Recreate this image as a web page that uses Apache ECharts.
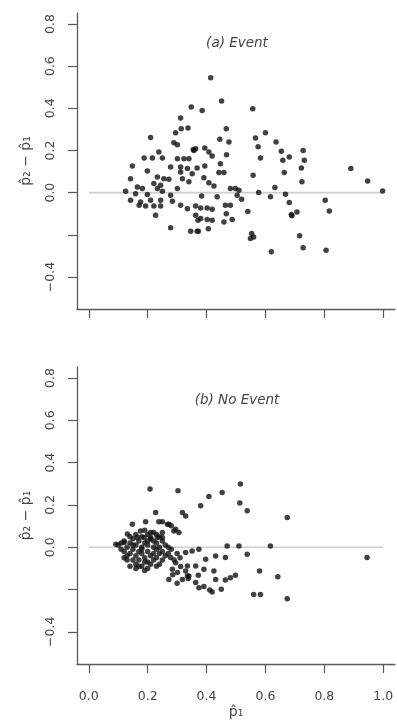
<!DOCTYPE html>
<html>
<head>
<meta charset="utf-8">
<script src="https://cdn.jsdelivr.net/npm/echarts@6/dist/echarts.min.js"></script>
<style>
  html, body { margin: 0; padding: 0; background: #fff; }
  #chart { width: 397px; height: 721px; }
</style>
</head>
<body>
<div id="chart"></div>
<script>
// Panel (a): patients with the event — [p1 hat, p2 hat - p1 hat]
const eventPoints = [
  [0.414,0.545],[0.451,0.435],[0.385,0.390],[0.557,0.398],[0.467,0.303],[0.600,0.284],
  [0.566,0.259],[0.445,0.253],[0.476,0.240],[0.636,0.240],[0.575,0.217],[0.394,0.212],
  [0.408,0.193],[0.419,0.174],[0.363,0.208],[0.468,0.180],[0.654,0.196],[0.681,0.169],
  [0.583,0.164],[0.659,0.153],[0.447,0.137],[0.394,0.126],[0.368,0.117],[0.442,0.095],
  [0.459,0.095],[0.664,0.095],[0.558,0.082],[0.391,0.070],[0.408,0.047],[0.425,0.032],
  [0.481,0.019],[0.498,0.019],[0.510,0.011],[0.504,-0.013],[0.519,-0.032],[0.632,0.024],
  [0.577,0.000],[0.617,-0.020],[0.668,-0.008],[0.681,-0.047],[0.688,-0.104],[0.383,-0.016],
  [0.436,-0.020],[0.464,-0.060],[0.481,-0.060],[0.380,-0.073],[0.402,-0.073],[0.419,-0.079],
  [0.467,-0.100],[0.540,-0.089],[0.380,-0.123],[0.402,-0.127],[0.419,-0.131],[0.459,-0.139],
  [0.487,-0.127],[0.372,-0.183],[0.406,-0.171],[0.553,-0.194],[0.549,-0.218],[0.560,-0.210],
  [0.620,-0.281],
  [0.348,0.406],[0.312,0.354],[0.337,0.306],[0.314,0.303],[0.295,0.284],[0.210,0.261],
  [0.289,0.237],[0.301,0.227],[0.355,0.205],[0.238,0.193],[0.250,0.164],[0.188,0.164],
  [0.216,0.164],[0.301,0.161],[0.323,0.161],[0.340,0.161],[0.148,0.126],[0.278,0.122],
  [0.312,0.122],[0.335,0.114],[0.199,0.103],[0.312,0.098],[0.351,0.090],[0.142,0.066],
  [0.233,0.074],[0.255,0.066],[0.272,0.063],[0.318,0.066],[0.340,0.051],[0.221,0.043],
  [0.244,0.035],[0.165,0.027],[0.182,0.019],[0.233,0.019],[0.250,0.006],[0.301,0.019],
  [0.125,0.006],[0.159,-0.005],[0.199,-0.009],[0.278,-0.013],[0.142,-0.036],[0.176,-0.044],
  [0.210,-0.036],[0.244,-0.036],[0.284,-0.041],[0.312,-0.060],[0.363,-0.063],[0.171,-0.060],
  [0.193,-0.063],[0.221,-0.063],[0.244,-0.063],[0.335,-0.076],[0.227,-0.107],[0.363,-0.107],
  [0.371,-0.131],[0.278,-0.167],[0.346,-0.183],[0.368,-0.183],[0.357,0.200],
  [0.728,0.200],[0.732,0.153],[0.722,0.117],[0.724,0.051],[0.890,0.114],[0.947,0.055],
  [0.998,0.008],[0.803,-0.036],[0.817,-0.087],[0.707,-0.092],[0.690,-0.110],[0.716,-0.205],
  [0.728,-0.262],[0.806,-0.273]
];

// Panel (b): patients without the event
const noEventPoints = [
  [0.10,0.01],[0.11,-0.01],[0.12,-0.02],[0.12,0.03],[0.13,0.00],[0.13,-0.04],[0.14,0.02],
  [0.14,-0.03],[0.15,-0.01],[0.15,-0.06],[0.15,0.04],[0.16,0.01],[0.16,-0.04],[0.16,-0.08],
  [0.17,0.03],[0.17,-0.02],[0.17,-0.06],[0.18,0.00],[0.18,-0.03],[0.18,0.05],[0.18,-0.09],
  [0.19,0.02],[0.19,-0.05],[0.19,-0.07],[0.20,0.01],[0.20,-0.02],[0.20,0.06],[0.20,-0.10],
  [0.21,0.04],[0.21,-0.04],[0.21,-0.08],[0.22,0.00],[0.22,-0.03],[0.22,0.07],[0.22,-0.06],
  [0.23,0.02],[0.23,-0.01],[0.23,-0.05],[0.23,-0.09],[0.24,0.05],[0.24,-0.03],[0.24,0.00],
  [0.25,0.03],[0.25,-0.02],[0.25,-0.06],[0.26,0.01],[0.26,-0.04],[0.13,-0.06],[0.14,0.05],
  [0.16,0.06],[0.19,0.08],[0.21,0.07],[0.17,-0.09],[0.20,-0.07],[0.24,-0.08],[0.12,-0.05],
  [0.11,0.02],[0.15,0.01],[0.18,-0.01],[0.20,0.03],[0.22,0.03],[0.19,-0.11],[0.16,-0.10],
  [0.14,-0.09],[0.23,0.06],[0.25,0.07],
  [0.278,-0.049],[0.295,-0.073],[0.312,-0.091],[0.329,-0.112],[0.340,-0.136],[0.284,-0.104],
  [0.301,-0.120],[0.272,-0.152],[0.318,-0.152],[0.335,-0.136],[0.329,-0.025],[0.351,-0.018],
  [0.374,-0.009],[0.335,-0.089],[0.363,-0.089],[0.391,-0.104],[0.338,-0.148],[0.372,-0.133],
  [0.363,-0.167],[0.374,-0.191],[0.270,-0.030],[0.280,-0.010],[0.290,-0.060],[0.300,-0.030],
  [0.310,-0.050],[0.270,0.000],[0.300,-0.170],[0.285,-0.130],
  [0.208,0.275],[0.303,0.267],[0.227,0.164],[0.318,0.164],[0.329,0.148],[0.193,0.120],
  [0.238,0.120],[0.272,0.109],[0.295,0.085],[0.306,0.070],[0.148,0.109],[0.176,0.077],
  [0.131,0.062],[0.165,0.046],[0.188,0.046],[0.210,0.046],[0.233,0.046],[0.250,0.046],
  [0.092,0.014],[0.120,0.022],[0.250,0.120],[0.267,0.109],[0.280,0.101],[0.289,0.077],
  [0.515,0.299],[0.453,0.259],[0.408,0.240],[0.380,0.196],[0.513,0.209],[0.538,0.172],
  [0.674,0.141],[0.470,0.006],[0.510,0.006],[0.617,0.006],[0.538,-0.033],[0.431,-0.041],
  [0.464,-0.049],[0.397,-0.057],[0.945,-0.049],[0.580,-0.112],[0.642,-0.139],[0.425,-0.112],
  [0.431,-0.152],[0.464,-0.155],[0.481,-0.144],[0.498,-0.133],[0.391,-0.186],[0.411,-0.202],
  [0.419,-0.212],[0.450,-0.199],[0.560,-0.223],[0.583,-0.223],[0.674,-0.243]
];

// Reference line at zero difference
const zeroLine = [[0, 0], [1, 0]];

// Tick positions and labels
const xTicks = [0, 0.2, 0.4, 0.6, 0.8, 1.0];
const yTicks = [-0.4, -0.2, 0, 0.2, 0.4, 0.6, 0.8];
const yLabelValues = [-0.4, 0, 0.2, 0.4, 0.6, 0.8];

const panelTitles = ['(a) Event', '(b) No Event'];
const yTitle = 'p\u0302\u2082 \u2212 p\u0302\u2081';
const xTitle = 'p\u0302\u2081';

const FONT = 'DejaVu Sans, Liberation Sans, sans-serif';
const AXIS_COLOR = '#5a5a5a';
const TEXT_COLOR = '#444';

const fmt = v => (v < 0 ? '\u2212' : '') + Math.abs(v).toFixed(1);

const grids = [
  { left: 77, width: 318, top: 13, height: 296 },
  { left: 77, width: 318, top: 367, height: 297 }
];

function makeX(i, showLabels) {
  return {
    type: 'value', gridIndex: i, min: -0.04, max: 1.04,
    axisLine: { show: true, onZero: false, lineStyle: { color: AXIS_COLOR, width: 1.3 } },
    axisTick: { show: true, length: 9, customValues: xTicks, lineStyle: { color: AXIS_COLOR, width: 1.2 } },
    axisLabel: {
      show: showLabels, customValues: xTicks, formatter: fmt, margin: 26,
      color: TEXT_COLOR, fontFamily: FONT, fontSize: 12.5
    },
    splitLine: { show: false },
    name: showLabels ? xTitle : '', nameLocation: 'middle', nameGap: 41,
    nameTextStyle: { color: TEXT_COLOR, fontFamily: FONT, fontSize: 14 }
  };
}

function makeY(i) {
  return {
    type: 'value', gridIndex: i, min: -0.552, max: 0.852,
    axisLine: { show: true, onZero: false, lineStyle: { color: AXIS_COLOR, width: 1.3 } },
    axisTick: { show: true, length: 9, customValues: yTicks, lineStyle: { color: AXIS_COLOR, width: 1.2 } },
    axisLabel: {
      customValues: yLabelValues, formatter: fmt, rotate: 90, margin: 20,
      color: TEXT_COLOR, fontFamily: FONT, fontSize: 12.5
    },
    splitLine: { show: false },
    name: yTitle, nameLocation: 'middle', nameRotate: 90, nameGap: 44,
    nameTextStyle: { color: TEXT_COLOR, fontFamily: FONT, fontSize: 14 }
  };
}

function scatter(i, data) {
  return {
    type: 'scatter', xAxisIndex: i, yAxisIndex: i, data: data,
    symbol: 'circle', symbolSize: 5.5, z: 3,
    itemStyle: { color: '#111' }, silent: true
  };
}

function refLine(i) {
  return {
    type: 'line', xAxisIndex: i, yAxisIndex: i, data: zeroLine,
    showSymbol: false, symbol: 'none', z: 1, silent: true,
    lineStyle: { color: '#cdcdcd', width: 1.6 }
  };
}

const titleY = [43, 400];

const chart = echarts.init(document.getElementById('chart'), null, { renderer: 'canvas' });
chart.setOption({
  backgroundColor: '#fff',
  animation: false,
  grid: grids,
  xAxis: [makeX(0, false), makeX(1, true)],
  yAxis: [makeY(0), makeY(1)],
  series: [refLine(0), scatter(0, eventPoints), refLine(1), scatter(1, noEventPoints)],
  graphic: panelTitles.map((t, i) => ({
    type: 'text', x: 237, y: titleY[i],
    style: {
      text: t, fill: TEXT_COLOR, font: 'italic 13.5px ' + FONT,
      align: 'center', verticalAlign: 'middle'
    }
  }))
});
</script>
</body>
</html>
